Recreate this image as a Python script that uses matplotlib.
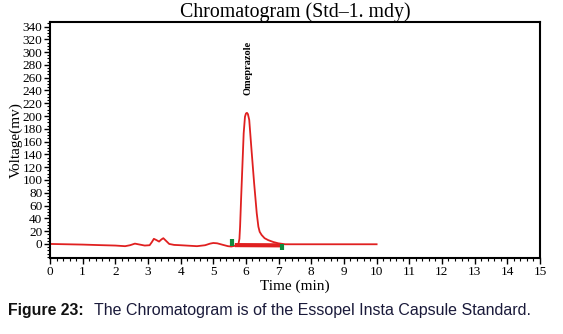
import numpy as np
import matplotlib.pyplot as plt
from matplotlib.ticker import MultipleLocator

# chromatogram trace (time in min, voltage in mV)
tid = [0.0, 0.5, 1.0, 1.5, 2.0, 2.3, 2.45, 2.6, 2.75, 2.9, 3.05, 3.12, 3.18, 3.26,
       3.34, 3.41, 3.47, 3.55, 3.65, 3.8, 4.0, 4.5, 4.75, 4.9, 5.0, 5.12, 5.3,
       5.45, 5.55, 5.65, 5.72, 5.77, 5.8, 5.82, 5.85, 5.89, 5.93, 5.97, 6.0,
       6.03, 6.06, 6.1, 6.17, 6.25, 6.33, 6.38, 6.42, 6.48, 6.57, 6.68,
       6.84, 6.99, 7.2, 7.5, 8.0, 9.0, 10.0]
spenning = [0, -0.5, -1, -1.8, -2.5, -3.5, -2, 0.5, -1, -2.5, -2, 3, 8, 6,
            3.7, 7, 9, 5, 0, -1.5, -2, -3.5, -2, 0.5, 1.5, 1, -1.5,
            -3.5, -4, -3, -1.5, 0, 8, 27, 69, 121, 173, 199, 204,
            205, 203, 194, 147, 95, 48, 27, 19, 14, 9, 6,
            3, 1, -0.5, -0.5, -0.5, -0.5, -0.5]

# peak integration marks
baselinje_t = [5.66, 7.11]
baselinje_v = [-1.8, -2.2]
markor_t = [5.58, 7.11]
markor_lav = [-3, -10]
markor_hoy = [7, 0]

topp_navn = "Omeprazole"
topp_t = 6.05
topp_v = 275

serif = "Liberation Serif"

fig = plt.figure(figsize=(5.63, 3.34), dpi=100)
ax = fig.add_axes([0.0888, 0.2275, 0.8702, 0.7065])

ax.plot(tid, spenning, color="#e02020", linewidth=1.3)
ax.plot(baselinje_t, baselinje_v, color="#e02020", linewidth=3, solid_capstyle="butt")
ax.vlines(markor_t, markor_lav, markor_hoy, color="#108a3c", linewidth=3)

ax.text(topp_t, topp_v, topp_navn, rotation=90, ha="center", va="center",
        fontsize=7.5, fontweight="bold", family=serif)

ax.set_xlim(0, 15)
ax.set_ylim(-22, 347)
ax.xaxis.set_major_locator(MultipleLocator(1))
ax.xaxis.set_minor_locator(MultipleLocator(0.2))
ax.yaxis.set_major_locator(MultipleLocator(20))
ax.yaxis.set_minor_locator(MultipleLocator(5))
ax.set_yticks(np.arange(0, 341, 20))
ax.tick_params(which="major", length=4, width=1, pad=1.5, labelsize=9.5)
ax.tick_params(which="minor", length=2.5, width=0.8)
for lbl in ax.get_xticklabels() + ax.get_yticklabels():
    lbl.set_family(serif)
for s in ax.spines.values():
    s.set_linewidth(1.5)

ax.set_title("Chromatogram (Std\u20131. mdy)", family=serif, fontsize=14.3, pad=3)
ax.set_xlabel("Time (min)", family=serif, fontsize=11, labelpad=1)
ax.set_ylabel("Voltage(mv)", family=serif, fontsize=11, labelpad=0)

fig.text(0.014, 0.07, "Figure 23:", family="Liberation Sans", fontsize=11.4,
         fontweight="bold", color="#111111", va="center")
fig.text(0.167, 0.07, "The Chromatogram is of the Essopel Insta Capsule Standard.",
         family="Liberation Sans", fontsize=11.5, color="#1a1a3a", va="center")

fig.savefig("out.png", dpi=100)
